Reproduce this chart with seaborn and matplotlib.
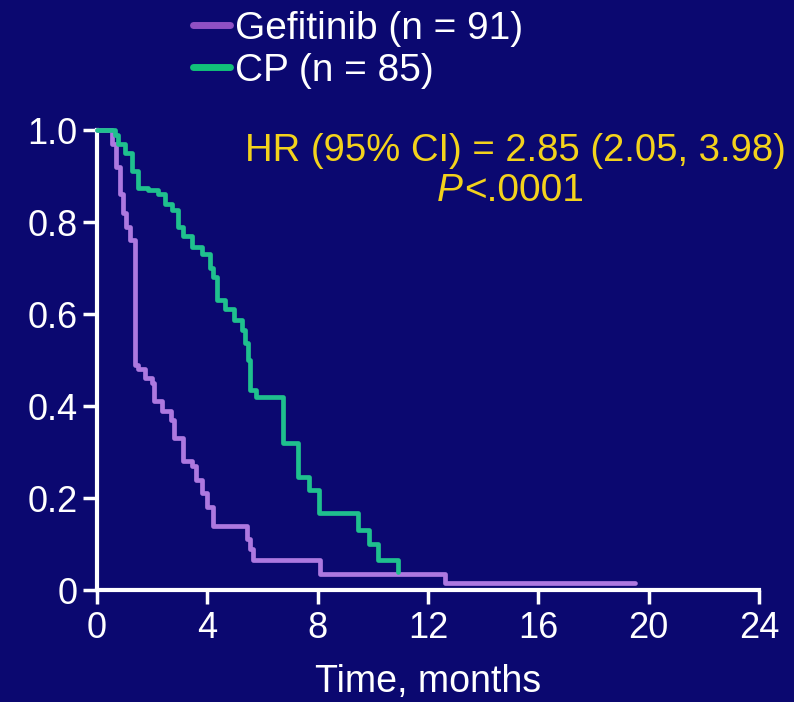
import matplotlib
matplotlib.use("Agg")
import matplotlib.pyplot as plt
import seaborn as sns
import pandas as pd

# ---- data ----
gef_time = [0, 0.55, 0.7, 0.85, 0.95, 1.05, 1.2, 1.38, 1.5, 1.75, 2.0, 2.05, 2.36, 2.7,
            2.8, 3.1, 3.45, 3.6, 3.8, 4.0, 4.2, 5.45, 5.55, 5.67, 8.1, 12.6, 19.5]
gef_surv = [1.0, 0.97, 0.92, 0.86, 0.82, 0.79, 0.76, 0.49, 0.48, 0.46, 0.45, 0.41, 0.39, 0.37,
            0.33, 0.28, 0.27, 0.24, 0.21, 0.18, 0.14, 0.11, 0.09, 0.065, 0.035, 0.015, 0.015]

cp_time = [0, 0.65, 0.76, 1.02, 1.27, 1.49, 1.85, 2.22, 2.47, 2.73, 2.95, 3.13, 3.45, 3.82,
           4.11, 4.22, 4.36, 4.65, 4.95, 5.27, 5.38, 5.49, 5.56, 5.75, 6.76, 7.27, 7.67, 8.04,
           9.45, 9.85, 10.2, 10.9]
cp_surv = [1.0, 0.99, 0.97, 0.95, 0.91, 0.875, 0.87, 0.86, 0.84, 0.826, 0.79, 0.77, 0.745, 0.73,
           0.70, 0.68, 0.63, 0.61, 0.587, 0.565, 0.537, 0.50, 0.435, 0.42, 0.32, 0.245, 0.217, 0.167,
           0.13, 0.10, 0.065, 0.04]

arm_labels = ["Gefitinib (n = 91)", "CP (n = 85)"]
x_ticks = [0, 4, 8, 12, 16, 20, 24]
y_ticks = [0, 0.2, 0.4, 0.6, 0.8, 1.0]
y_ticklabels = ["0", "0.2", "0.4", "0.6", "0.8", "1.0"]
hr_text = "HR (95% CI) = 2.85 (2.05, 3.98)"
p_text = "<.0001"

# ---- style ----
BG = "#0b0870"
FG = "white"
YEL = "#f3d21c"
PURPLE = "#ad78e0"
GREEN = "#1fc08e"

sns.set_style("ticks")
plt.rcParams["font.family"] = ["Liberation Sans", "DejaVu Sans"]
plt.rcParams.update({
    "figure.facecolor": BG,
    "axes.facecolor": BG,
    "axes.edgecolor": FG,
    "xtick.color": FG,
    "ytick.color": FG,
    "text.color": FG,
    "axes.labelcolor": FG,
})

df = pd.concat([
    pd.DataFrame({"time": gef_time, "surv": gef_surv, "arm": arm_labels[0]}),
    pd.DataFrame({"time": cp_time, "surv": cp_surv, "arm": arm_labels[1]}),
], ignore_index=True)

fig = plt.figure(figsize=(7.94, 7.02), dpi=100)
ax = fig.add_axes([97 / 794, 1 - 590 / 702, (759 - 97) / 794, (590 - 130) / 702])

sns.lineplot(data=df, x="time", y="surv", hue="arm", hue_order=arm_labels,
             palette=[PURPLE, GREEN], estimator=None, drawstyle="steps-post",
             linewidth=3.4, ax=ax, clip_on=False, legend=True)

ax.set_xlim(0, 24)
ax.set_ylim(0, 1.0)
ax.set_xticks(x_ticks)
ax.set_xticklabels([str(t) for t in x_ticks])
ax.set_yticks(y_ticks)
ax.set_yticklabels(y_ticklabels)
for s in ["top", "right"]:
    ax.spines[s].set_visible(False)
for s in ["left", "bottom"]:
    ax.spines[s].set_linewidth(3)
    ax.spines[s].set_zorder(1)
ax.tick_params(axis="both", direction="out", length=10, width=2.5, labelsize=26)
ax.tick_params(axis="x", pad=5)
ax.tick_params(axis="y", pad=4)
ax.set_xlabel("Time, months", fontsize=27, labelpad=13)
ax.set_ylabel("")

leg = ax.legend(loc="upper left", bbox_to_anchor=(193 / 794, 1 - 11 / 702),
                bbox_transform=fig.transFigure, frameon=False, fontsize=28,
                handlelength=0.95, handletextpad=0.13, labelspacing=0.15,
                borderpad=0, borderaxespad=0)
for h, c in zip(leg.legend_handles, ["#9050c4", "#12c07a"]):
    h.set_color(c)
    h.set_linewidth(5)
for t in leg.get_texts():
    t.set_color(FG)

fig.text(245 / 794, 1 - 151 / 702, hr_text, color=YEL, fontsize=27.5, va="center", ha="left")
fig.text(437 / 794, 1 - 191 / 702, "P", color=YEL, fontsize=28, va="center", ha="left",
         style="italic")
fig.text(464 / 794, 1 - 191 / 702, p_text, color=YEL, fontsize=28, va="center", ha="left")

fig.savefig("out.png", dpi=100, facecolor=BG)
